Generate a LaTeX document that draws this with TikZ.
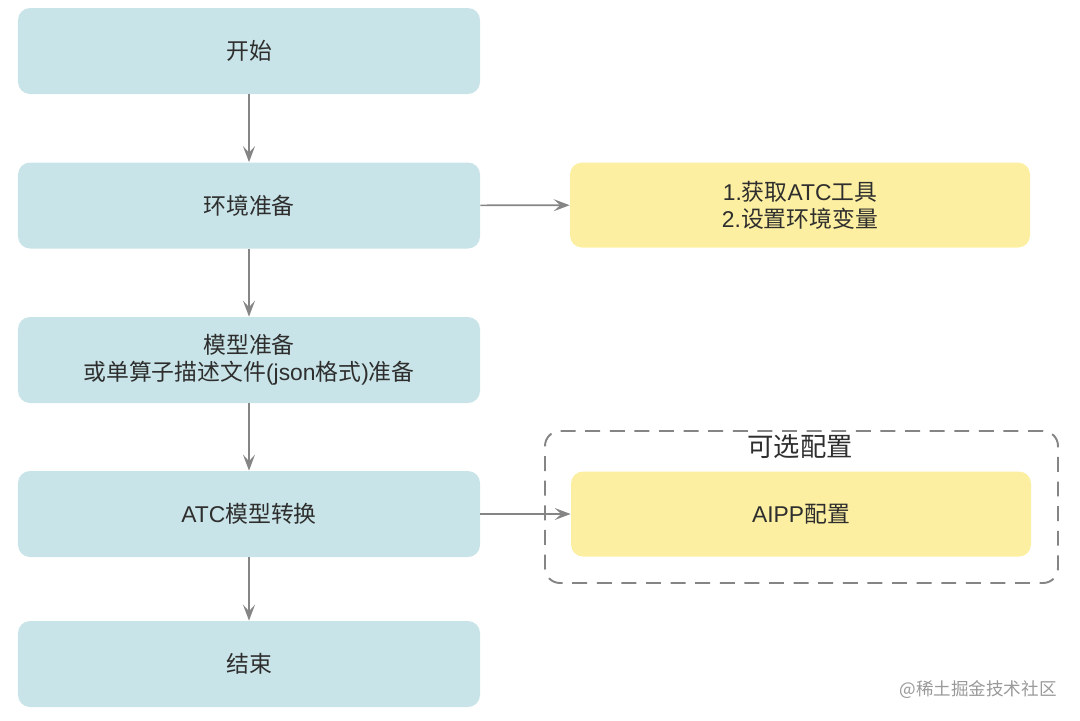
\documentclass[tikz,border=0pt]{standalone}
\usepackage{fontspec}
\setmainfont{Noto Sans CJK SC}
\newfontfamily\lat{Liberation Sans}
\usetikzlibrary{arrows.meta}
\definecolor{boxblue}{HTML}{C9E4E8}
\definecolor{boxyellow}{HTML}{FCEFA1}
\definecolor{linegray}{HTML}{858585}
\definecolor{txtgray}{HTML}{2E2E2E}
\newcommand{\en}[1]{{\lat #1}}
\tikzset{
  stepbox/.style={fill=boxblue,rounded corners=0.24cm,minimum width=9.24cm,minimum height=1.72cm,
    align=center,text=txtgray,font=\fontsize{13}{15.5}\selectfont,inner sep=0pt},
  notebox/.style={stepbox,fill=boxyellow,minimum width=9.2cm,minimum height=1.7cm},
  optframe/.style={draw=linegray,line width=1.1pt,dash pattern=on 8.5pt off 5.5pt,
    rounded corners=0.3cm,minimum width=10.26cm,minimum height=3.04cm,inner sep=0pt},
  flow/.style={->,draw=linegray,line width=0.9pt}
}
\begin{document}
\begin{tikzpicture}[line join=round,>={Stealth[length=0.32cm,width=0.24cm,inset=0.13cm]}]
\useasboundingbox (0,0) rectangle (21.6,-14.4);

% main steps
\node[stepbox] (start) at (4.98,-1.02)  {开始};
\node[stepbox] (env)   at (4.98,-4.11)  {环境准备};
\node[stepbox] (model) at (4.98,-7.20)  {模型准备\\或单算子描述文件\en{(json}格式\en{)}准备};
\node[stepbox] (atc)   at (4.98,-10.28) {\en{ATC}模型转换};
\node[stepbox] (stop)  at (4.98,-13.28) {结束};

% side notes
\node[notebox] (envnote) at (16.0,-4.10) {\en{1.}获取\en{ATC}工具\\\en{2.}设置环境变量};
\node[optframe] (opt) at (16.03,-10.14) {};
\node[text=txtgray,font=\fontsize{15}{18}\selectfont] (optlabel) at (16.0,-8.94) {可选配置};
\node[notebox] (aipp) at (16.02,-10.28) {\en{AIPP}配置};

\draw[flow] (start) -- (env);
\draw[flow] (env) -- (model);
\draw[flow] (model) -- (atc);
\draw[flow] (atc) -- (stop);
\draw[flow] (env) -- (envnote);
\draw[flow] (atc) -- (aipp);

\node[text=black!40,font=\fontsize{10}{12}\selectfont] (mark) at (19.56,-13.8) {@稀土掘金技术社区};
\end{tikzpicture}
\end{document}
